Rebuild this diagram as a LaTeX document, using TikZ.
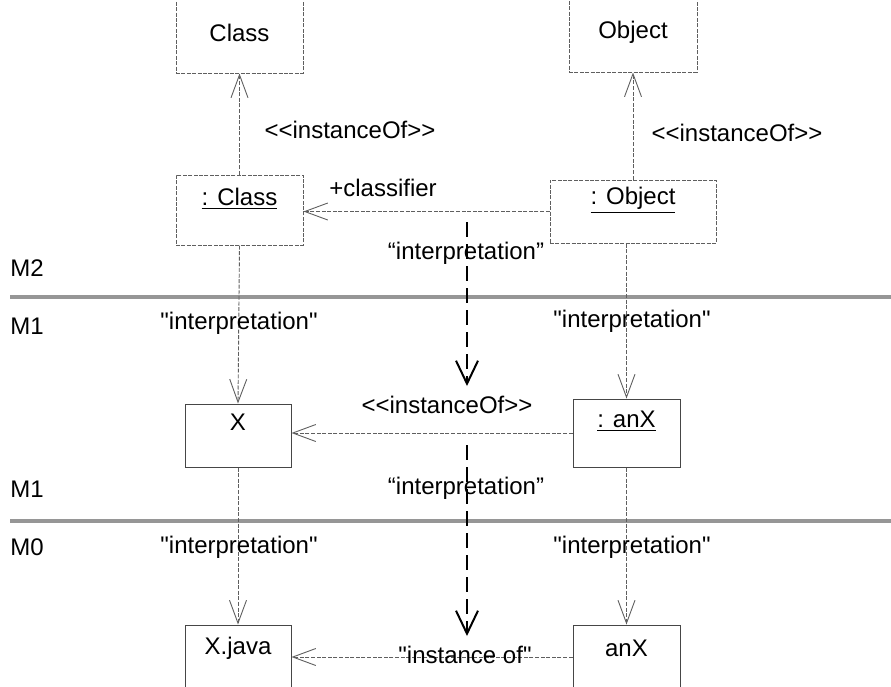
\documentclass[tikz,border=0pt]{standalone}
\usepackage{fontspec}
\setmainfont{Liberation Sans}[Ligatures=TeXOff]
\usepackage{xcolor}
\definecolor{linegray}{RGB}{95,95,95}
\definecolor{boxgray}{RGB}{70,70,70}
\definecolor{sepgray}{RGB}{150,150,150}
\usetikzlibrary{arrows.meta, positioning}

\begin{document}
\begin{tikzpicture}[x=0.5pt, y=-0.5pt,
  lbl/.style={font=\fontsize{12}{14}\selectfont, inner sep=1pt},
  umlbox/.style={draw=boxgray, line width=0.5pt, inner sep=0pt},
  metabox/.style={umlbox, draw=linegray, dash pattern=on 2pt off 0.7pt},
  link/.style={draw=linegray, line width=0.45pt, dash pattern=on 2pt off 0.8pt,
    -{Straight Barb[length=11.5pt, width=8.5pt, line width=0.45pt]}},
  interp/.style={draw=black, line width=1pt, dash pattern=on 7.5pt off 3.5pt,
    -{Straight Barb[length=11.5pt, width=11pt, line width=1pt]}},
  sep/.style={draw=sepgray, line width=2pt}]
  \useasboundingbox (0,0) rectangle (891,687);
  \clip (0,0) rectangle (891,687);

  % level separators
  \draw[sep] (10,297) -- (891,297);
  \draw[sep] (10,521) -- (891,521);
  \node[lbl, anchor=west] (m2) at (8,268) {M2};
  \node[lbl, anchor=west] (m1a) at (8,326) {M1};
  \node[lbl, anchor=west] (m1b) at (8,489) {M1};
  \node[lbl, anchor=west] (m0) at (8,547) {M0};

  % --- M2 boxes ---
  \node[metabox, minimum width=63.5pt, minimum height=51.5pt] (cls) at (239.5,21.5) {};
  \node[lbl] (clsTxt) at (239.5,33) {Class};
  \node[metabox, minimum width=64pt, minimum height=51pt] (obj) at (633,21) {};
  \node[lbl] (objTxt) at (633,32) {Object};

  \node[metabox, minimum width=63.5pt, minimum height=35pt] (clsI) at (239.5,210) {};
  \node[lbl] (clsITxt) at (239.5,199) {\underline{: Class}};
  \node[metabox, minimum width=83pt, minimum height=31.5pt] (objI) at (633,211.5) {};
  \node[lbl] (objITxt) at (633,200) {\underline{: Object}};

  % --- M1 boxes ---
  \node[umlbox, minimum width=53pt, minimum height=31.5pt] (x) at (238,435.5) {};
  \node[lbl] (xTxt) at (238,422) {X};
  \node[umlbox, minimum width=53.5pt, minimum height=34pt] (anXo) at (626.5,433) {};
  \node[lbl] (anXoTxt) at (626.5,421) {\underline{: anX}};

  % --- M0 boxes ---
  \node[umlbox, minimum width=53pt, minimum height=32pt] (xj) at (238,657) {};
  \node[lbl] (xjTxt) at (238,648) {X.java};
  \node[umlbox, minimum width=53.5pt, minimum height=32pt] (anX) at (626.5,657) {};
  \node[lbl] (anXTxt) at (626.5,648) {anX};

  % instanceOf links
  \draw[link] (clsI.north) -- (cls.south);
  \draw[link] (objI.north) -- (obj.south);
  \node[lbl] (io1) at (350,130) {<<instanceOf>>};
  \node[lbl] (io2) at (737,133) {<<instanceOf>>};

  \draw[link] (objI.west) -- (objI.west -| clsI.east);
  \node[lbl] (clf) at (383,188) {+classifier};

  \draw[link] (anXo.west) -- (anXo.west -| x.east);
  \node[lbl] (io3) at (447,405) {<<instanceOf>>};

  \draw[link] (anX.west) -- (anX.west -| xj.east);
  \node[lbl] (io4) at (465,655) {"instance of"};

  % interpretation links
  \draw[link] (clsI.south) -- (x.north);
  \draw[link] (objI.south -| anXo.north) -- (anXo.north);
  \draw[link] (x.south) -- (xj.north);
  \draw[link] (anXo.south) -- (anX.north);
  \node[lbl] (ip1) at (239,323) {"interpretation"};
  \node[lbl] (ip2) at (632,321) {"interpretation"};
  \node[lbl] (ip3) at (239,547) {"interpretation"};
  \node[lbl] (ip4) at (632,547) {"interpretation"};

  % dependencies between the levels
  \coordinate (dep1s) at (467,222);
  \coordinate (dep1e) at (467,386);
  \coordinate (dep2s) at (467,445);
  \coordinate (dep2e) at (467,636);
  \draw[interp] (dep1s) -- (dep1e);
  \draw[interp] (dep2s) -- (dep2e);
  \node[lbl] (ip5) at (466,253) {“interpretation”};
  \node[lbl] (ip6) at (466,488) {“interpretation”};
\end{tikzpicture}
\end{document}
